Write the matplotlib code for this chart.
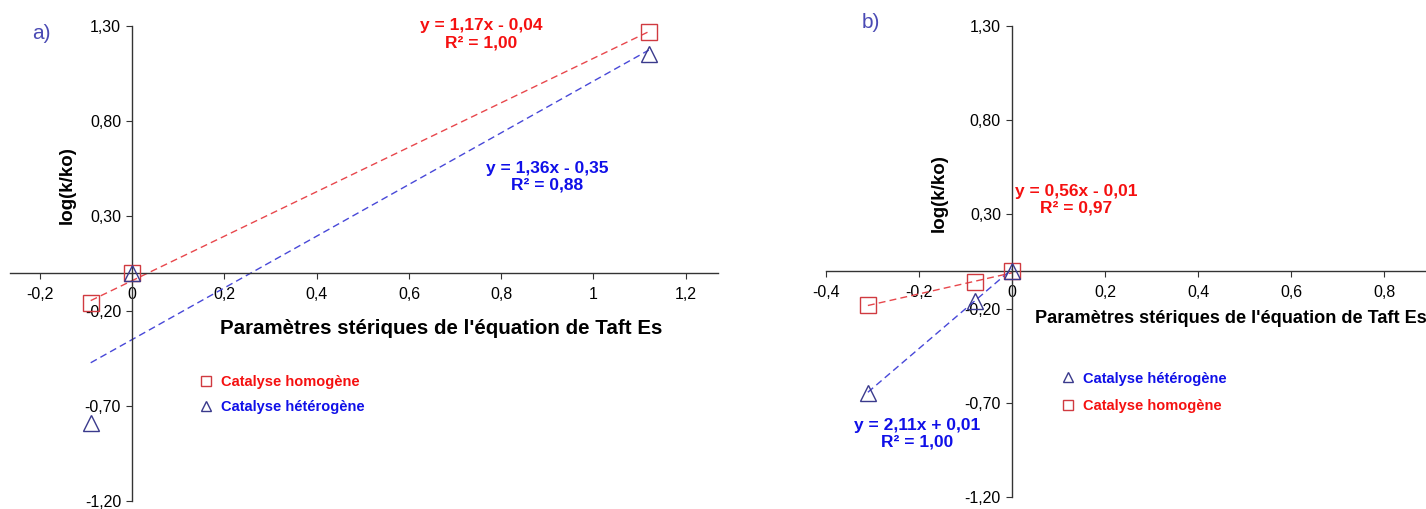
import matplotlib
import matplotlib.pyplot as plt
from matplotlib.lines import Line2D
from matplotlib.ticker import FuncFormatter

matplotlib.use('Agg')
plt.rcParams['font.family'] = ['Liberation Sans', 'DejaVu Sans']

# panel a)
A_X = [-0.09, 0, 1.12]
A_HOMO = [-0.16, 0, 1.27]
A_HETERO = [-0.79, 0, 1.15]
A_FIT_HOMO = (1.17, -0.04)
A_FIT_HETERO = (1.36, -0.35)
A_X_TICKS = [-0.2, 0, 0.2, 0.4, 0.6, 0.8, 1, 1.2]

# panel b)
B_X = [-0.31, -0.08, 0]
B_HOMO = [-0.18, -0.06, 0]
B_HETERO = [-0.65, -0.16, 0]
B_FIT_HOMO = (0.56, -0.01)
B_FIT_HETERO = (2.11, 0.01)
B_X_TICKS = [-0.4, -0.2, 0, 0.2, 0.4, 0.6, 0.8]

Y_TICKS = [-1.2, -0.7, -0.2, 0.3, 0.8, 1.3]

XLABEL = "Paramètres stériques de l'équation de Taft Es"
YLABEL = "log(k/ko)"
HOMO = "Catalyse homogène"
HETERO = "Catalyse hétérogène"

SQ_EDGE = '#d03a40'
TRI_EDGE = '#3a3a8c'
RED_LINE = '#e8474c'
BLUE_LINE = '#4848d8'
RED_TXT = '#f51010'
BLUE_TXT = '#1010e8'
PANEL_TXT = '#4a4ab4'


def fmt_x(v, pos):
    v = round(v, 3)
    if v == 0:
        return '0'
    return f'{v:g}'.replace('.', ',')


def fmt_y(v, pos):
    return f'{v:.2f}'.replace('.', ',')


def setup(ax, xlim, xticks):
    ax.set_xlim(xlim)
    ax.set_ylim(-1.2, 1.3)
    ax.spines['left'].set_position(('data', 0))
    ax.spines['bottom'].set_position(('data', 0))
    ax.spines[['top', 'right']].set_visible(False)
    for s in ['left', 'bottom']:
        ax.spines[s].set_color('#333333')
        ax.spines[s].set_linewidth(1.0)
    ax.set_xticks(xticks)
    ax.set_yticks(Y_TICKS)
    ax.xaxis.set_major_formatter(FuncFormatter(fmt_x))
    ax.yaxis.set_major_formatter(FuncFormatter(fmt_y))
    ax.tick_params(axis='x', direction='out', length=4, pad=6, labelsize=11.5, color='#333333')
    ax.tick_params(axis='y', direction='out', length=4, pad=4, labelsize=11.5, color='#333333')
    ax.patch.set_alpha(0)


def trend(ax, xs, fit, color):
    x0, x1 = min(xs), max(xs)
    ax.plot([x0, x1], [fit[0] * x0 + fit[1], fit[0] * x1 + fit[1]],
            ls=(0, (5, 3)), lw=1.0, color=color, zorder=2)


def fit_text(fit):
    a, b = fit
    sign = '-' if b < 0 else '+'
    return f'y = {a:.2f}x {sign} {abs(b):.2f}'.replace('.', ',')


fig = plt.figure(figsize=(14.26, 5.09), dpi=100)
ax1 = fig.add_axes([10 / 1426, 8 / 509, 708 / 1426, 475 / 509])
ax2 = fig.add_axes([826 / 1426, 12 / 509, 600 / 1426, 471 / 509])

# ---- a)
setup(ax1, (-0.265, 1.27), A_X_TICKS)
trend(ax1, A_X, A_FIT_HOMO, RED_LINE)
trend(ax1, A_X, A_FIT_HETERO, BLUE_LINE)
ax1.plot(A_X, A_HOMO, ls='none', marker='s', ms=11, mfc='none', mec=SQ_EDGE, mew=1.0,
         zorder=3, clip_on=False)
ax1.plot(A_X, A_HETERO, ls='none', marker='^', ms=11, mfc='none', mec=TRI_EDGE, mew=1.0,
         zorder=3, clip_on=False)
ax1.text(0.757, 1.257, fit_text(A_FIT_HOMO) + '\nR² = 1,00', color=RED_TXT, fontsize=12.5,
         fontweight='bold', ha='center', va='center', linespacing=1.15)
ax1.text(0.9, 0.508, fit_text(A_FIT_HETERO) + '\nR² = 0,88', color=BLUE_TXT, fontsize=12.5,
         fontweight='bold', ha='center', va='center', linespacing=1.15)
ax1.text(0.67, -0.29, XLABEL, fontsize=14.8, fontweight='bold', ha='center', va='center')
ax1.text(-0.141, 0.463, YLABEL, fontsize=13.5, fontweight='bold', ha='center', va='center',
         rotation=90)
ax1.text(-0.196, 1.263, 'a)', fontsize=15, color=PANEL_TXT, ha='center', va='center')
h_sq = Line2D([], [], ls='none', marker='s', ms=7, mfc='none', mec=SQ_EDGE, mew=1.0)
h_tri = Line2D([], [], ls='none', marker='^', ms=7, mfc='none', mec=TRI_EDGE, mew=1.0)
ax1.legend([h_sq, h_tri], [HOMO, HETERO], loc='center left', bbox_to_anchor=(0.148, -0.64),
           bbox_transform=ax1.transData, frameon=False, handlelength=0.8, handletextpad=0.6,
           labelspacing=0.7, borderpad=0, borderaxespad=0,
           labelcolor=[RED_TXT, BLUE_TXT], prop={'weight': 'bold', 'size': 10.5})

# ---- b)
setup(ax2, (-0.4, 0.89), B_X_TICKS)
trend(ax2, B_X, B_FIT_HOMO, RED_LINE)
trend(ax2, B_X, B_FIT_HETERO, BLUE_LINE)
ax2.plot(B_X, B_HOMO, ls='none', marker='s', ms=11, mfc='none', mec=SQ_EDGE, mew=1.0,
         zorder=3, clip_on=False)
ax2.plot(B_X, B_HETERO, ls='none', marker='^', ms=11, mfc='none', mec=TRI_EDGE, mew=1.0,
         zorder=3, clip_on=False)
ax2.text(0.137, 0.377, fit_text(B_FIT_HOMO) + '\nR² = 0,97', color=RED_TXT, fontsize=12.5,
         fontweight='bold', ha='center', va='center', linespacing=1.15)
ax2.text(-0.204, -0.865, fit_text(B_FIT_HETERO) + '\nR² = 1,00', color=BLUE_TXT, fontsize=12.5,
         fontweight='bold', ha='center', va='center', linespacing=1.15)
ax2.text(0.05, -0.25, XLABEL, fontsize=13.1, fontweight='bold', ha='left', va='center')
ax2.text(-0.157, 0.414, YLABEL, fontsize=13.5, fontweight='bold', ha='center', va='center',
         rotation=90)
ax2.text(-0.303, 1.32, 'b)', fontsize=15, color=PANEL_TXT, ha='center', va='center',
         clip_on=False)
ax2.legend([h_tri, h_sq], [HETERO, HOMO], loc='center left', bbox_to_anchor=(0.108, -0.645),
           bbox_transform=ax2.transData, frameon=False, handlelength=0.8, handletextpad=0.6,
           labelspacing=0.95, borderpad=0, borderaxespad=0,
           labelcolor=[BLUE_TXT, RED_TXT], prop={'weight': 'bold', 'size': 10.5})

fig.savefig('out.png', dpi=100)
